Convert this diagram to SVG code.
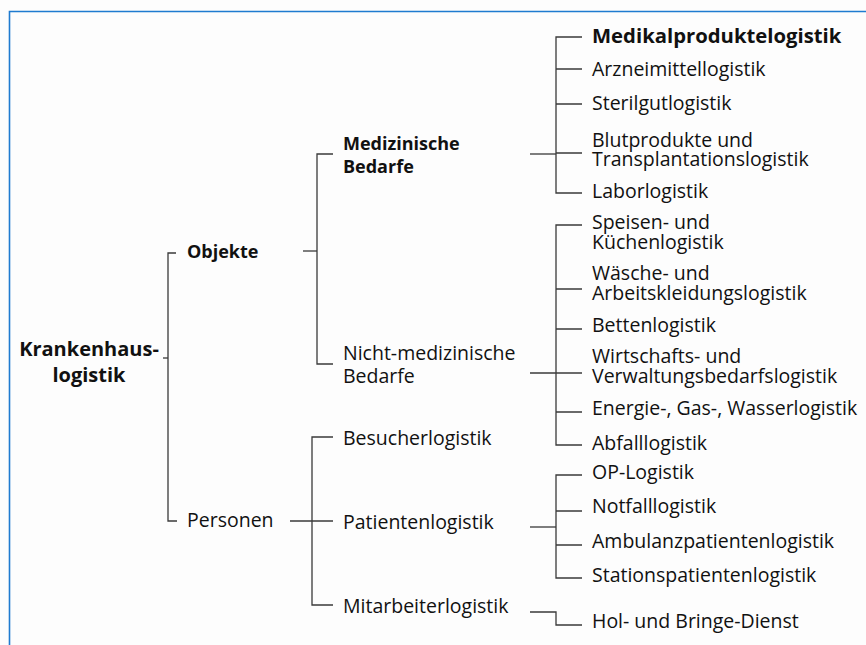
<svg xmlns="http://www.w3.org/2000/svg" width="866" height="645" viewBox="0 0 866 645">
<style>
text{font-family:"Open Sans","Noto Sans","Liberation Sans",sans-serif;font-size:19.5px;fill:#111}
.b{font-weight:700;font-size:18px}
.frame{fill:none;stroke:#1f7bd0;stroke-width:1.6}
.c{fill:none;stroke:#3a3a3a;stroke-width:1.3}
</style>
<rect x="0" y="0" width="866" height="645" fill="#fdfdfd"/>
<path class="frame" d="M9.5,645 V11.5 H866"/>
<g id="connectors">
<path class="c" d="M163,358 H168"/>
<path class="c" d="M176,253 H168 V521 H177"/>
<path class="c" d="M303,251 H317"/>
<path class="c" d="M333,154 H317 V364 H333"/>
<path class="c" d="M290,521 H333"/>
<path class="c" d="M333,437 H312 V605 H333"/>
<path class="c" d="M530,154 H556"/>
<path class="c" d="M582,37 H556 V193 H582 M556,69 H582 M556,104 H582 M556,153 H582"/>
<path class="c" d="M530,373 H582"/>
<path class="c" d="M582,225 H556 V445 H582 M556,289 H582 M556,329 H582 M556,412 H582"/>
<path class="c" d="M530,527 H556"/>
<path class="c" d="M582,475 H556 V578 H582 M556,511 H582 M556,545 H582"/>
<path class="c" d="M530,612 H556 V625 H582"/>
</g>
<g id="krankenhauslogistik"><text class="b" text-anchor="middle" style="font-size:20px"><tspan x="89" y="356">Krankenhaus-</tspan><tspan x="89" y="382">logistik</tspan></text></g>
<g id="objekte"><text class="b" x="187" y="258">Objekte</text></g>
<g id="personen"><text x="187" y="527">Personen</text></g>
<g id="medizinische-bedarfe"><text class="b"><tspan x="343" y="150">Medizinische</tspan><tspan x="343" y="173">Bedarfe</tspan></text></g>
<g id="nicht-medizinische-bedarfe"><text><tspan x="343" y="360">Nicht-medizinische</tspan><tspan x="343" y="383">Bedarfe</tspan></text></g>
<g id="besucherlogistik"><text x="343" y="445">Besucherlogistik</text></g>
<g id="patientenlogistik"><text x="343" y="529">Patientenlogistik</text></g>
<g id="mitarbeiterlogistik"><text x="343" y="613">Mitarbeiterlogistik</text></g>
<g id="medikalproduktelogistik"><text class="b" x="592" y="43" style="font-size:20.3px">Medikalproduktelogistik</text></g>
<g id="arzneimittellogistik"><text x="592" y="76">Arzneimittellogistik</text></g>
<g id="sterilgutlogistik"><text x="592" y="110">Sterilgutlogistik</text></g>
<g id="blutprodukte"><text><tspan x="592" y="147">Blutprodukte und</tspan><tspan x="592" y="166">Transplantationslogistik</tspan></text></g>
<g id="laborlogistik"><text x="592" y="198">Laborlogistik</text></g>
<g id="speisen"><text><tspan x="592" y="229">Speisen- und</tspan><tspan x="592" y="249">Küchenlogistik</tspan></text></g>
<g id="waesche"><text><tspan x="592" y="280">Wäsche- und</tspan><tspan x="592" y="300">Arbeitskleidungslogistik</tspan></text></g>
<g id="bettenlogistik"><text x="592" y="332">Bettenlogistik</text></g>
<g id="wirtschafts"><text><tspan x="592" y="363">Wirtschafts- und</tspan><tspan x="592" y="383">Verwaltungsbedarfslogistik</tspan></text></g>
<g id="energie"><text x="592" y="415">Energie-, Gas-, Wasserlogistik</text></g>
<g id="abfalllogistik"><text x="592" y="450">Abfalllogistik</text></g>
<g id="op-logistik"><text x="592" y="479">OP-Logistik</text></g>
<g id="notfalllogistik"><text x="592" y="513">Notfalllogistik</text></g>
<g id="ambulanzpatientenlogistik"><text x="592" y="548">Ambulanzpatientenlogistik</text></g>
<g id="stationspatientenlogistik"><text x="592" y="582">Stationspatientenlogistik</text></g>
<g id="hol-bringe-dienst"><text x="592" y="628">Hol- und Bringe-Dienst</text></g>
</svg>
